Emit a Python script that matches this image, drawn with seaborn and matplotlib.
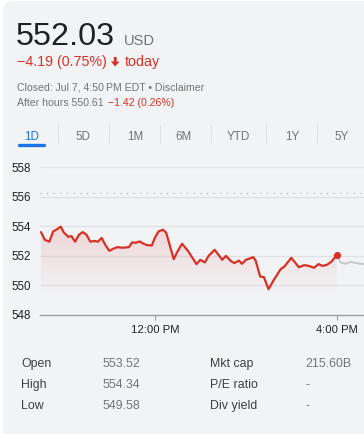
import numpy as np
import pandas as pd
import matplotlib
matplotlib.use("Agg")
import matplotlib.pyplot as plt
import seaborn as sns
from matplotlib.patches import FancyBboxPatch, Polygon
from matplotlib.lines import Line2D
from matplotlib.transforms import IdentityTransform

# ---------------- data ----------------
# minutes after 9:30 AM, regular session
times_reg = [0, 5, 11, 16, 20, 26, 30, 36, 40, 45, 50, 55, 60, 65, 70, 75, 80, 85, 90, 96,
             101, 107, 116, 120, 125, 130, 136, 140, 146, 150, 155, 161, 165, 175, 180, 186,
             194, 205, 210, 216, 221, 229, 234, 239, 244, 250, 255, 261, 265, 270, 280, 283,
             289, 294, 300, 307, 316, 321, 330, 340, 347, 353, 360, 366, 371, 377, 383, 390]
prices_reg = [553.60, 553.08, 552.95, 553.65, 553.76, 553.97, 553.58, 553.28, 553.33, 552.95,
              553.42, 553.60, 553.42, 552.95, 553.00, 552.95, 553.20, 552.72, 552.33, 552.49,
              552.58, 552.54, 552.58, 552.90, 552.88, 552.97, 552.79, 552.72, 552.69, 553.20,
              553.65, 553.76, 553.56, 551.77, 552.29, 552.81, 552.31, 551.43, 551.72, 551.54,
              551.99, 552.40, 552.06, 551.72, 551.99, 551.65, 551.50, 551.67, 551.45, 551.72,
              551.90, 551.67, 550.59, 550.54, 549.73, 550.36, 551.09, 551.27, 551.86, 551.22,
              551.36, 551.31, 551.18, 551.43, 551.31, 551.38, 551.60, 552.03]
# after hours
times_ah = [390, 395, 402, 408, 415, 422, 430]
prices_ah = [552.03, 551.54, 551.45, 551.58, 551.50, 551.45, 551.40]

prev_close = 556.22
y_ticks = [548, 550, 552, 554, 556, 558]
x_ticks = [150, 390]
x_ticklabels = ["12:00 PM", "4:00 PM"]
tabs = ["1D", "5D", "1M", "6M", "YTD", "1Y", "5Y"]
stat_labels_l = ["Open", "High", "Low"]
stat_values_l = ["553.52", "554.34", "549.58"]
stat_labels_r = ["Mkt cap", "P/E ratio", "Div yield"]
stat_values_r = ["215.60B", "-", "-"]

# ---------------- style ----------------
sns.set_theme(style="white")
plt.rcParams["font.family"] = ["Liberation Sans", "DejaVu Sans"]

W, H = 364, 434
DPI = 100
fig = plt.figure(figsize=(W / DPI, H / DPI), dpi=DPI)
fig.patch.set_facecolor("white")

CARD = "#f2f3f5"
RED = "#d93025"
GRAY = "#70757a"
DARK = "#3c4043"
GRID = "#dfe1e5"

card = FancyBboxPatch((3, -30), W + 40, H - 1 + 30, boxstyle="round,pad=0,rounding_size=10",
                      transform=IdentityTransform(), facecolor=CARD, edgecolor="none", zorder=-10)
fig.patches.append(card)


def fx(x):
    return x / W


def fy(y):
    return 1 - y / H


# ---------------- header texts ----------------
fig.text(fx(16), fy(45), "552.03", fontsize=23.3, color="#202124", va="baseline", ha="left")
fig.text(fx(124), fy(45), "USD", fontsize=10.5, color=GRAY, va="baseline", ha="left")
fig.text(fx(17), fy(66), "\u22124.19 (0.75%)", fontsize=10.3, color=RED, va="baseline", ha="left")
# bold down arrow
arrow_px = [(113.8, 57), (116.6, 57), (116.6, 61.5), (119.5, 61.5), (115.2, 66.5),
            (110.9, 61.5), (113.8, 61.5)]
fig.patches.append(Polygon([(x, H - y) for x, y in arrow_px], closed=True,
                           transform=IdentityTransform(), facecolor=RED, edgecolor="none"))
fig.text(fx(125), fy(66), "today", fontsize=10.3, color=RED, va="baseline", ha="left")
fig.text(fx(17), fy(90), "Closed: Jul 7, 4:50\u2009PM EDT \u2022 Disclaimer", fontsize=7.6,
         color=GRAY, va="baseline", ha="left", family=["Liberation Sans", "DejaVu Sans"])
fig.text(fx(17), fy(106), "After hours 550.61", fontsize=7.6, color=GRAY, va="baseline", ha="left")
fig.text(fx(108), fy(106), "\u22121.42 (0.26%)", fontsize=7.6, color=RED, va="baseline", ha="left")

# tabs
tab_centers = [32, 83, 135, 184, 238, 292, 342]
for t, cx in zip(tabs, tab_centers):
    fig.text(fx(cx), fy(140), t, fontsize=8.4, color="#1a73e8" if t == "1D" else GRAY,
             va="baseline", ha="center")
for sx in [58, 109, 160, 211, 266, 317]:
    fig.add_artist(Line2D([fx(sx), fx(sx)], [fy(125), fy(143)], color=GRID, lw=0.8,
                          transform=fig.transFigure))
fig.add_artist(Line2D([fx(19), fx(44)], [fy(145), fy(145)], color="#1a73e8", lw=2.4,
                      solid_capstyle="round", transform=fig.transFigure))

# ---------------- chart ----------------
ax_left, ax_right = 39.5, W
ax_top, ax_bot = 167.2, 314.7
ax = fig.add_axes([fx(ax_left), fy(ax_bot), fx(ax_right - ax_left), (ax_bot - ax_top) / H])
ax.set_facecolor("none")

x0 = -2.0
x1 = x0 + (ax_right - ax_left) * 60 / 45.5
ax.set_xlim(x0, x1)
ax.set_ylim(548, 558)

df_reg = pd.DataFrame({"t": times_reg, "p": prices_reg})
df_ah = pd.DataFrame({"t": times_ah, "p": prices_ah})

# gradient fill under regular-session line
poly = ax.fill_between(df_reg["t"], df_reg["p"], 548, color="none", lw=0)
grad = np.zeros((256, 1, 4))
grad[..., 0], grad[..., 1], grad[..., 2] = 0.85, 0.19, 0.15
ys = np.linspace(558, 548, 256)
grad[:, 0, 3] = np.clip((ys - 549.3) / (554 - 549.3), 0, 1) * 0.15
img = ax.imshow(grad, extent=[x0, x1, 548, 558], aspect="auto", origin="upper", zorder=1)
img.set_clip_path(poly.get_paths()[0], transform=ax.transData)
ax.set_xlim(x0, x1)
ax.set_ylim(548, 558)

for yv in y_ticks[1:]:
    ax.axhline(yv, color=GRID, lw=0.9, zorder=0)
ax.axhline(prev_close, color="#a9adb2", lw=1.0, ls=(0, (0.6, 4.2)), zorder=0.5)

sns.lineplot(data=df_ah, x="t", y="p", ax=ax, color="#c4c7cb", lw=1.4, zorder=2)
sns.lineplot(data=df_reg, x="t", y="p", ax=ax, color=RED, lw=1.6, zorder=3)
ax.scatter([times_reg[-1]], [prices_reg[-1]], s=26, color=RED, zorder=4, lw=0)

for s in ["top", "right", "left"]:
    ax.spines[s].set_visible(False)
ax.spines["bottom"].set_color("#9aa0a6")
ax.spines["bottom"].set_linewidth(1.0)

ax.set_yticks(y_ticks)
ax.set_yticklabels([str(v) for v in y_ticks])
ax.set_xticks(x_ticks)
ax.set_xticklabels(x_ticklabels)
ax.tick_params(axis="y", length=0, pad=3.5, labelsize=8.3, labelcolor="#202124")
ax.tick_params(axis="x", length=3.4, width=0.8, color="#9aa0a6", pad=4, labelsize=8.1,
               labelcolor="#202124", direction="out", bottom=True)
for lab in ax.get_yticklabels():
    lab.set_horizontalalignment("left")
    lab.set_x(-(ax_left - 16.5) / (ax_right - ax_left))
ax.set_xlabel("")
ax.set_ylabel("")

# ---------------- stats table ----------------
rows_y = [367, 388.3, 409.3]
for i, yb in enumerate(rows_y):
    fig.text(fx(21), fy(yb), stat_labels_l[i], fontsize=8.9, color=DARK, va="baseline", ha="left")
    fig.text(fx(103), fy(yb), stat_values_l[i], fontsize=8.9, color=GRAY, va="baseline", ha="left")
    fig.text(fx(210), fy(yb), stat_labels_r[i], fontsize=8.9, color=DARK, va="baseline", ha="left")
    fig.text(fx(305), fy(yb), stat_values_r[i], fontsize=8.9, color=GRAY, va="baseline", ha="left")

fig.savefig("out.png", dpi=DPI, facecolor=fig.get_facecolor())
